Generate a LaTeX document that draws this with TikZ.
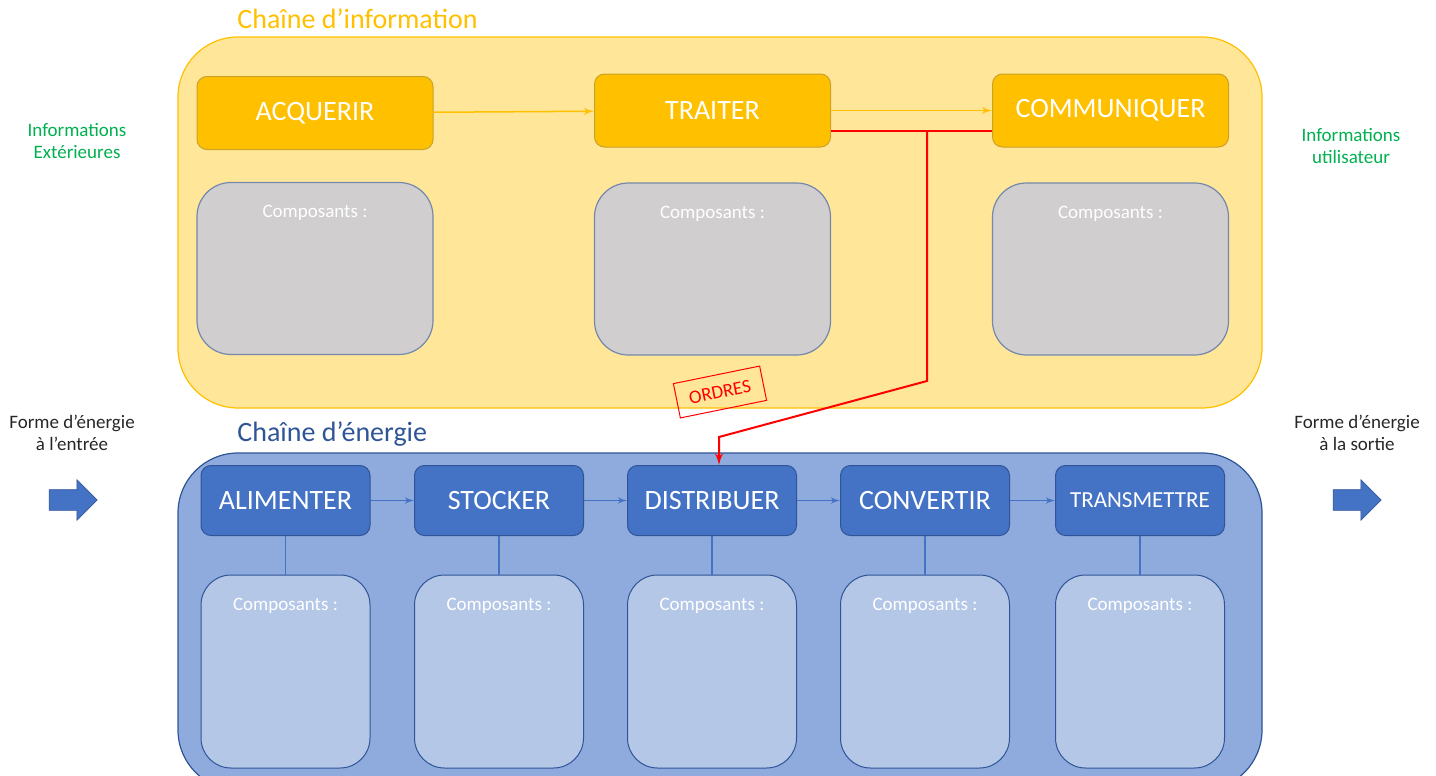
\documentclass[tikz,border=0pt]{standalone}
\usepackage{fontspec}
\setmainfont{Carlito}
\usetikzlibrary{positioning,arrows,calc,shapes.arrows}
\definecolor{orinfo}{HTML}{FFC000}
\definecolor{fondinfo}{HTML}{FFE699}
\definecolor{bordinfo}{HTML}{C9A227}
\definecolor{gris}{HTML}{D0CECE}
\definecolor{bordgris}{HTML}{7488AD}
\definecolor{fondenergie}{HTML}{8FAADC}
\definecolor{bleu}{HTML}{4472C4}
\definecolor{bleufonce}{HTML}{2F5597}
\definecolor{bleuclair}{HTML}{B4C7E7}
\definecolor{vertinfo}{HTML}{00B050}
\tikzset{
    chaineinfo/.style = {
        draw=orinfo,
        fill=fondinfo,
        rounded corners=30pt,
        minimum width=542pt,
        minimum height=185.5pt,
        line width=0.6pt
    },
    chaineenergie/.style = {
        draw=bleufonce,
        fill=fondenergie,
        rounded corners=30pt,
        minimum width=542pt,
        minimum height=168.5pt,
        line width=0.6pt
    },
    fonction/.style = {
        rounded corners=5pt,
        text=white,
        font=\fontsize{14}{16}\selectfont,
        line width=0.5pt
    },
    infobloc/.style = {
        fonction,
        draw=bordinfo,
        fill=orinfo,
        minimum width=118pt,
        minimum height=36.5pt
    },
    energiebloc/.style = {
        fonction,
        draw=bleufonce,
        fill=bleu,
        minimum width=84.5pt,
        minimum height=35pt
    },
    compgris/.style = {
        draw=bordgris,
        fill=gris,
        rounded corners=17pt,
        minimum width=118pt,
        minimum height=86pt,
        line width=0.6pt
    },
    compbleu/.style = {
        draw=bleufonce,
        fill=bleuclair,
        rounded corners=15pt,
        minimum width=84.5pt,
        minimum height=96.5pt,
        line width=0.5pt
    },
    compotexte/.style = {
        text=white,
        inner sep=0pt,
        font=\fontsize{9.5}{11}\selectfont
    },
    titre/.style = {
        anchor=west,
        inner sep=0pt,
        font=\fontsize{14}{16}\selectfont
    },
    cote/.style = {
        align=center,
        inner sep=0pt,
        font=\fontsize{9.5}{11}\selectfont
    },
    fleche/.style = {
        single arrow,
        draw=bleufonce,
        fill=bleu,
        minimum height=24pt,
        minimum width=20pt,
        single arrow head extend=5pt,
        inner sep=5pt,
        line width=0.3pt
    },
    ordre/.style = {
        draw=red,
        line width=1pt
    },
    >=latex',
}
\begin{document}
\begin{tikzpicture}[x=0.5pt, y=-0.5pt]
                \clip (0,0) rectangle (1436,776);
                % chaine d'information
                \node[chaineinfo] (cinfo) at (720,222.5) {};
                \node[titre, text=orinfo] (tinfo) at (237,19) {Chaîne d’information};
                \node[infobloc] (acquerir) at (315,113) {ACQUERIR};
                \node[infobloc] (traiter) at (712.5,110.5) {TRAITER};
                \node[infobloc] (communiquer) at (1110.5,110.5) {COMMUNIQUER};
                \node[compgris] (cacq) at (315,268.5) {};
                \node[compgris] (ctrait) at (712.5,269) {};
                \node[compgris] (ccomm) at (1110.5,269) {};

                % chaine d'energie
                \node[chaineenergie] (cenergie) at (720,621.5) {};
                \node[titre, text=bleufonce] (tenergie) at (237,434) {Chaîne d’énergie};
                \node[energiebloc] (alimenter) at (285.5,500.5) {ALIMENTER};
                \node[energiebloc] (stocker) at (499,500.5) {STOCKER};
                \node[energiebloc] (distribuer) at (712,500.5) {DISTRIBUER};
                \node[energiebloc] (convertir) at (925,500.5) {CONVERTIR};
                \node[energiebloc, font=\fontsize{11.5}{13}\selectfont] (transmettre) at (1140,500.5) {TRANSMETTRE};
                \node[compbleu] (calim) at (285.5,671.5) {};
                \node[compbleu] (cstock) at (499,671.5) {};
                \node[compbleu] (cdistr) at (712,671.5) {};
                \node[compbleu] (cconv) at (925,671.5) {};
                \node[compbleu] (ctrans) at (1140,671.5) {};

                \foreach \c in {cacq,ctrait,ccomm,calim,cstock,cdistr,cconv,ctrans}
                    \node[compotexte] (t\c) at ([yshift=-15.5pt]\c.north) {Composants :};

                % entrees et sorties
                \node[cote, text=vertinfo] (infoext) at (77,141) {Informations\\Extérieures};
                \node[cote, text=vertinfo] (infoutil) at (1351,146) {Informations\\utilisateur};
                \node[cote, text=black!85] (formeentree) at (72,433) {Forme d’énergie\\à l’entrée};
                \node[cote, text=black!85] (formesortie) at (1357,433) {Forme d’énergie\\à la sortie};
                \node[fleche] (flentree) at (68,500) {};
                \node[fleche] (flsortie) at (1352,500) {};

                \path[draw, ->, orinfo, line width=0.75pt] (acquerir) -- (traiter);
                \path[draw, ->, orinfo, line width=0.75pt] (traiter) -- (communiquer);

                \path[draw, ->, bleu, line width=0.6pt] (alimenter) -- (stocker);
                \path[draw, ->, bleu, line width=0.6pt] (stocker) -- (distribuer);
                \path[draw, ->, bleu, line width=0.6pt] (distribuer) -- (convertir);
                \path[draw, ->, bleu, line width=0.6pt] (convertir) -- (transmettre);
                \path[draw, bleu, line width=0.6pt] (alimenter) -- (calim);
                \path[draw, bleu, line width=0.6pt] (stocker) -- (cstock);
                \path[draw, bleu, line width=0.6pt] (distribuer) -- (cdistr);
                \path[draw, bleu, line width=0.6pt] (convertir) -- (cconv);
                \path[draw, bleu, line width=0.6pt] (transmettre) -- (ctrans);

                % ordres
                \coordinate (bif) at (927,130.5);
                \coordinate (coude) at (927,381);
                \coordinate (coude2) at (719,437);
                \path[ordre] ([yshift=-10pt]traiter.east) -- ([yshift=-10pt]communiquer.west);
                \path[ordre, ->] (bif) -- (coude) -- (coude2) -- (coude2 |- distribuer.north);
                \node[draw=red, text=red, rotate=11.5, minimum width=44pt, minimum height=17.5pt, inner sep=0pt, line width=0.5pt, font=\fontsize{9.5}{11}\selectfont] (lordres) at (720,392) {ORDRES};
            \end{tikzpicture}
\end{document}
